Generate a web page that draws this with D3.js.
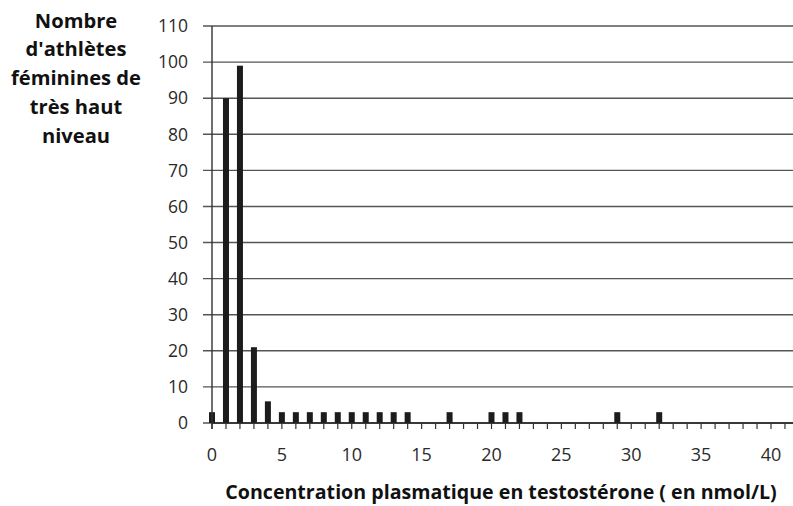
<!DOCTYPE html>
<html>
<head>
<meta charset="utf-8">
<script src="https://cdn.jsdelivr.net/npm/d3@7"></script>
<style>
  html, body { margin: 0; padding: 0; background: #fff; }
  svg { display: block; }
</style>
</head>
<body>
<div id="chart"></div>
<script>
// ── Data ──
const concentrations = [0, 1, 2, 3, 4, 5, 6, 7, 8, 9, 10, 11, 12, 13, 14, 17, 20, 21, 22, 29, 32];
const athletes = [3, 90, 99, 21, 6, 3, 3, 3, 3, 3, 3, 3, 3, 3, 3, 3, 3, 3, 3, 3, 3];
const yTicks = [0, 10, 20, 30, 40, 50, 60, 70, 80, 90, 100, 110];
const xTicks = [0, 5, 10, 15, 20, 25, 30, 35, 40];
const minorTicks = d3.range(0, 42);
const yTitleLines = ["Nombre", "d'athlètes", "féminines de", "très haut", "niveau"];
const xTitle = "Concentration plasmatique en testostérone ( en nmol/L)";

const W = 793, H = 506;
const FONT = "'Open Sans', 'Noto Sans', sans-serif";

const svg = d3.select("#chart").append("svg")
  .attr("width", W).attr("height", H);

// ── Scales ──
const x = d3.scaleLinear().domain([0, 40]).range([212, 771]);
const y = d3.scaleLinear().domain([0, 110]).range([423, 26]);

// fit a text element's font size so it spans the target width
function fitWidth(sel, target) {
  const node = sel.node();
  const fs = parseFloat(sel.attr("font-size"));
  const w = node.getComputedTextLength();
  if (w > 0) sel.attr("font-size", (fs * target / w).toFixed(2));
  return sel;
}

// ── Gridlines + y tick marks ──
svg.append("g")
  .selectAll("line")
  .data(yTicks)
  .join("line")
  .attr("x1", 203).attr("x2", W)
  .attr("y1", d => y(d)).attr("y2", d => y(d))
  .attr("stroke", "#555").attr("stroke-width", 1.4);

// y tick labels
svg.append("g")
  .selectAll("text")
  .data(yTicks)
  .join("text")
  .attr("x", 188)
  .attr("y", d => y(d))
  .attr("dy", "0.36em")
  .attr("text-anchor", "end")
  .attr("font-family", FONT)
  .attr("font-size", 17.5)
  .attr("fill", "#2a2a2a")
  .text(d => d);

// ── Bars ──
const barW = 6;
svg.append("g")
  .selectAll("rect")
  .data(concentrations.map((c, i) => ({ c, n: athletes[i] })))
  .join("rect")
  .attr("x", d => x(d.c) - barW / 2)
  .attr("y", d => y(d.n))
  .attr("width", barW)
  .attr("height", d => y(0) - y(d.n))
  .attr("fill", "#1c1c1c");

// ── Axes lines ──
svg.append("line")
  .attr("x1", x(0)).attr("x2", x(0))
  .attr("y1", y(110)).attr("y2", y(0) + 6)
  .attr("stroke", "#333").attr("stroke-width", 1.4);

svg.append("line")
  .attr("x1", x(0)).attr("x2", W)
  .attr("y1", y(0)).attr("y2", y(0))
  .attr("stroke", "#222").attr("stroke-width", 1.6);

// minor x ticks
svg.append("g")
  .selectAll("line")
  .data(minorTicks)
  .join("line")
  .attr("x1", d => x(d)).attr("x2", d => x(d))
  .attr("y1", y(0)).attr("y2", y(0) + 6)
  .attr("stroke", "#333").attr("stroke-width", 1.2);

// x tick labels
svg.append("g")
  .selectAll("text")
  .data(xTicks)
  .join("text")
  .attr("x", d => x(d))
  .attr("y", 461)
  .attr("text-anchor", "middle")
  .attr("font-family", FONT)
  .attr("font-size", 18)
  .attr("fill", "#2a2a2a")
  .text(d => d);

// ── Titles ──
const xt = svg.append("text")
  .attr("x", 501).attr("y", 499)
  .attr("text-anchor", "middle")
  .attr("font-family", FONT)
  .attr("font-weight", "bold")
  .attr("font-size", 16)
  .attr("fill", "#111")
  .text(xTitle);
fitWidth(xt, 552);

const yTitle = svg.append("g");
const lineY = [21, 49, 78, 107, 136];
const yLines = yTitle.selectAll("text")
  .data(yTitleLines)
  .join("text")
  .attr("x", 76)
  .attr("y", (d, i) => lineY[i])
  .attr("dy", "0.36em")
  .attr("text-anchor", "middle")
  .attr("font-family", FONT)
  .attr("font-weight", "bold")
  .attr("font-size", 15)
  .attr("fill", "#111")
  .text(d => d);

// size all lines from the widest one
const widest = yLines.filter(d => d === "féminines de");
fitWidth(widest, 130);
yLines.attr("font-size", widest.attr("font-size"));
</script>
</body>
</html>
